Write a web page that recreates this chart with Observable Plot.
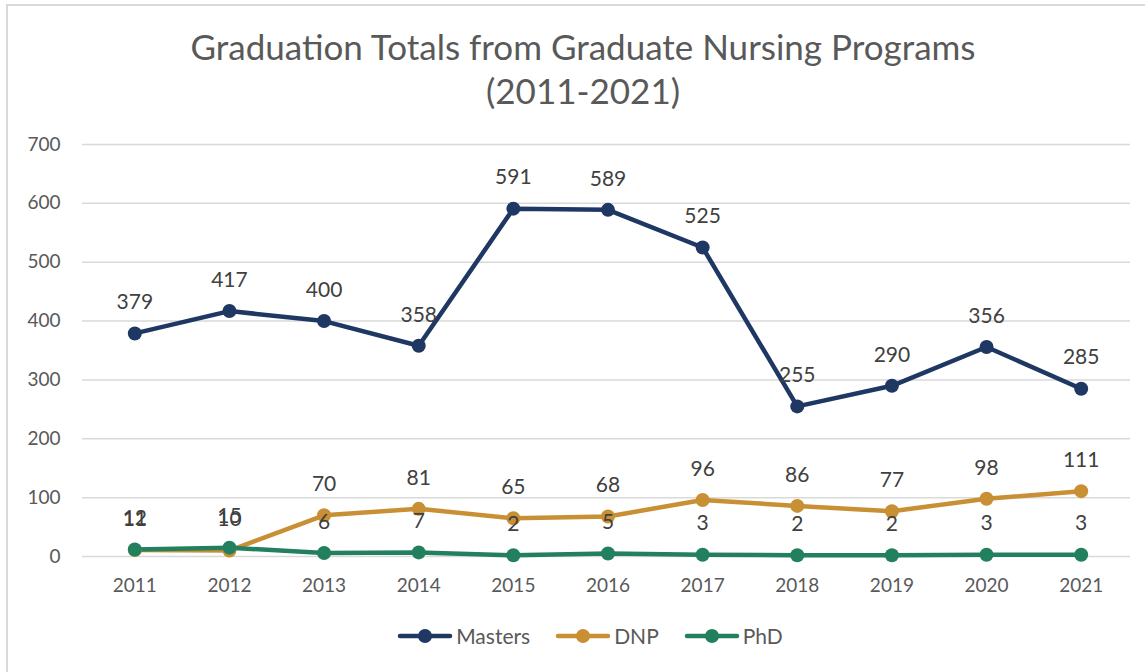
<!DOCTYPE html>
<html>
<head>
<meta charset="utf-8">
<script src="https://cdn.jsdelivr.net/npm/d3@7"></script>
<script src="https://cdn.jsdelivr.net/npm/@observablehq/plot@0.6"></script>
<style>
  html, body { margin: 0; padding: 0; background: #fff; }
  #wrap { position: relative; width: 1145px; height: 672px; overflow: hidden; font-family: Lato, "Open Sans", sans-serif; }
  #frame { position: absolute; left: 6px; top: 4px; width: 1200px; height: 700px; border-left: 2px solid #d9d9d9; border-top: 2px solid #d9d9d9; box-sizing: border-box; }
  #title { position: absolute; left: 0; top: 24px; width: 1166px; text-align: center; color: #595959; font-size: 35px; line-height: 44px; }
  #chart { position: absolute; left: 0; top: 110px; }
  #legend { position: absolute; left: 0; top: 623px; width: 1180px; display: flex; justify-content: center; gap: 25px; color: #595959; font-size: 21px; }
  .item { display: flex; align-items: center; }
  .item svg { margin-right: 3px; }
</style>
</head>
<body>
<div id="wrap">
  <div id="frame"></div>
  <div id="title">Graduation Totals from Graduate Nursing Programs<br>(2011-2021)</div>
  <div id="chart"></div>
  <div id="legend"></div>
</div>
<script>
const years = ["2011","2012","2013","2014","2015","2016","2017","2018","2019","2020","2021"];
const masters = [379, 417, 400, 358, 591, 589, 525, 255, 290, 356, 285];
const dnp = [11, 10, 70, 81, 65, 68, 96, 86, 77, 98, 111];
const phd = [12, 15, 6, 7, 2, 5, 3, 2, 2, 3, 3];
const seriesNames = ["Masters", "DNP", "PhD"];
const seriesColors = ["#1f3763", "#c98f34", "#22805f"];
const yTicks = [0, 100, 200, 300, 400, 500, 600, 700];

const seriesValues = [masters, dnp, phd];
const rows = [];
seriesNames.forEach((s, i) => years.forEach((yr, j) => rows.push({series: s, year: yr, value: seriesValues[i][j]})));

const color = {domain: seriesNames, range: seriesColors};

const plot = Plot.plot({
  width: 1145,
  height: 510,
  marginTop: 34,
  marginBottom: 64,
  marginLeft: 87,
  marginRight: 17,
  style: {fontFamily: "Lato, 'Open Sans', sans-serif", background: "transparent", overflow: "visible"},
  x: {type: "point", domain: years, padding: 0.5, round: false, label: null},
  y: {domain: [0, 700], ticks: yTicks, label: null},
  color,
  marks: [
    Plot.ruleY(yTicks, {stroke: "#d9d9d9", strokeWidth: 1.5, insetLeft: -5, insetRight: -2}),
    Plot.axisY({ticks: yTicks, tickSize: 0, tickPadding: 27, fontSize: 19, fill: "#595959", label: null}),
    Plot.axisX({tickSize: 0, tickPadding: 22, fontSize: 19, fill: "#595959", label: null}),
    Plot.line(rows, {x: "year", y: "value", z: "series", stroke: "series", strokeWidth: 4.5}),
    Plot.dot(rows, {x: "year", y: "value", fill: "series", r: 7}),
    Plot.text(rows, {x: "year", y: "value", text: d => String(d.value), dy: -31, fontSize: 21, fill: "#404040"})
  ]
});
document.getElementById("chart").appendChild(plot);

const legend = document.getElementById("legend");
seriesNames.forEach((s, i) => {
  const item = document.createElement("div");
  item.className = "item";
  item.innerHTML = `<svg width="56" height="20"><line x1="3" y1="10" x2="53" y2="10" stroke="${seriesColors[i]}" stroke-width="4.5" stroke-linecap="round"/><circle cx="28" cy="10" r="7" fill="${seriesColors[i]}"/></svg><span>${s}</span>`;
  legend.appendChild(item);
});
</script>
</body>
</html>
